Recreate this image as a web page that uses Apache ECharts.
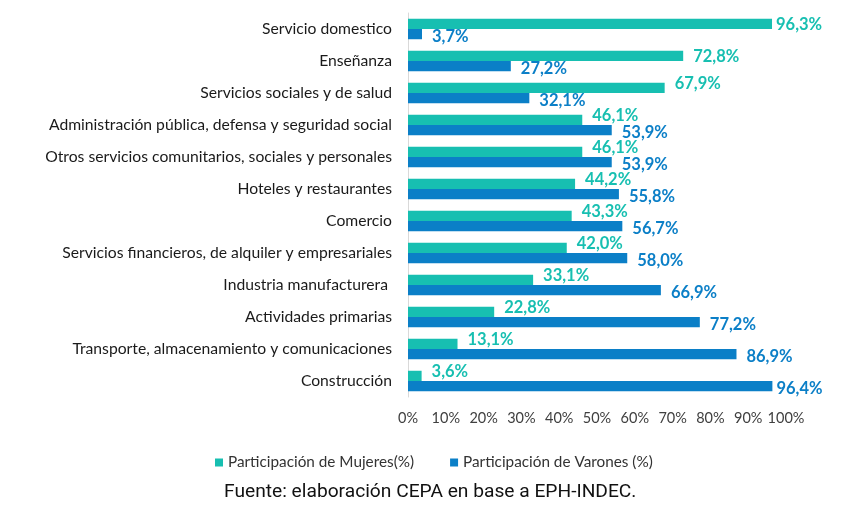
<!DOCTYPE html>
<html><head><meta charset="utf-8">
<script src="https://cdn.jsdelivr.net/npm/echarts@6/dist/echarts.min.js"></script>
<style>html,body{margin:0;padding:0;background:#fff}#c{width:848px;height:519px}</style>
</head><body><div id="c"></div>
<script>
const categories = [
  "Servicio domestico",
  "Enseñanza",
  "Servicios sociales y de salud",
  "Administración pública, defensa y seguridad social",
  "Otros servicios comunitarios, sociales y personales",
  "Hoteles y restaurantes",
  "Comercio",
  "Servicios financieros, de alquiler y empresariales",
  "Industria manufacturera ",
  "Actividades primarias",
  "Transporte, almacenamiento y comunicaciones",
  "Construcción"
];
const mujeres = [96.3, 72.8, 67.9, 46.1, 46.1, 44.2, 43.3, 42.0, 33.1, 22.8, 13.1, 3.6];
const varones = [3.7, 27.2, 32.1, 53.9, 53.9, 55.8, 56.7, 58.0, 66.9, 77.2, 86.9, 96.4];
const xTicks = [0, 10, 20, 30, 40, 50, 60, 70, 80, 90, 100];
const seriesNames = ["Participación de Mujeres(%)", "Participación de Varones (%)"];
const sourceText = "Fuente: elaboración CEPA en base a EPH-INDEC.";

const TEAL = '#17BFB1', BLUE = '#0B7FC7';
const fmt = v => v.toFixed(1).replace('.', ',') + '%';
// label placement: nudge teal labels up when the blue bar below reaches near them
const mkM = mujeres.map((v, i) => ({
  value: v,
  label: { distance: v > 90 ? 4 : 10, offset: [0, (v - varones[i] > 40) ? 1 : -4] }
}));
const mkV = varones.map(v => ({
  value: v,
  label: { distance: v > 90 ? 4 : 10, offset: [0, 3] }
}));

const chart = echarts.init(document.getElementById('c'), null, {renderer: 'canvas'});
chart.setOption({
  animation: false,
  grid: { left: 408, right: 62, top: 13, height: 384, containLabel: false },
  xAxis: {
    type: 'value', min: xTicks[0], max: xTicks[xTicks.length - 1], interval: 10,
    axisLine: { show: false }, axisTick: { show: false }, splitLine: { show: false },
    axisLabel: { formatter: '{value}%', fontFamily: 'Lato', fontSize: 14.5, color: '#404040', margin: 14 }
  },
  yAxis: {
    type: 'category', data: categories, inverse: true,
    axisLine: { show: true, lineStyle: { color: '#d9d9d9', width: 1 } },
    axisTick: { show: false },
    axisLabel: { fontFamily: 'Lato', fontSize: 15.7, color: '#1a1a1a', margin: 16 }
  },
  legend: {
    bottom: 44, left: 210, itemWidth: 8, itemHeight: 8, itemGap: 36, icon: 'rect',
    textStyle: { fontFamily: 'Lato', fontSize: 15.3, color: '#333' },
    data: seriesNames
  },
  series: [
    { name: seriesNames[0], type: 'bar', data: mkM, barGap: '0%', barCategoryGap: '36%', z: 2,
      itemStyle: { color: TEAL },
      label: { show: true, position: 'right', color: TEAL, fontWeight: 'bold',
        fontFamily: 'Lato', fontSize: 16.5, formatter: p => fmt(p.value) } },
    { name: seriesNames[1], type: 'bar', data: mkV, barGap: '0%', barCategoryGap: '36%', z: 1,
      itemStyle: { color: BLUE },
      label: { show: true, position: 'right', color: BLUE, fontWeight: 'bold',
        fontFamily: 'Lato', fontSize: 16.5, formatter: p => fmt(p.value) } }
  ],
  graphic: [{
    type: 'text', left: 224, top: 483,
    style: { text: sourceText, font: '19.2px Roboto', fill: '#111' }
  }]
});
</script></body></html>
